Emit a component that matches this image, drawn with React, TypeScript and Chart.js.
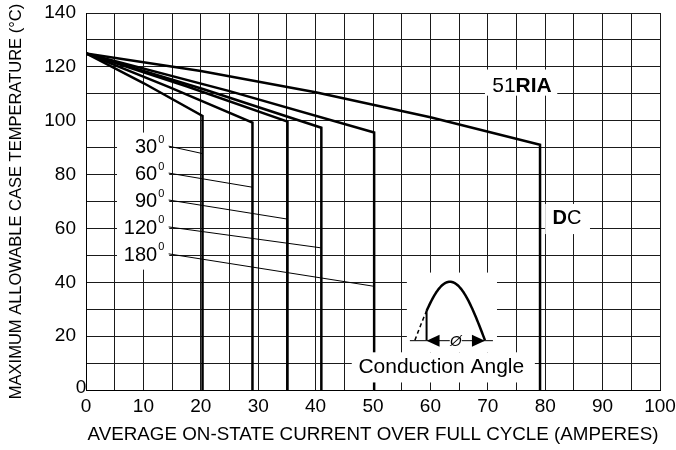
import React, { useEffect, useRef } from "react";
import { Chart, registerables } from "chart.js";
Chart.register(...registerables);

const FONT = "'Liberation Sans', Arial, Helvetica, sans-serif";

// Curves: maximum allowable case temperature vs average current
const a30X = [0, 10, 20.3, 20.3];
const a30Y = [125, 114.0, 101.8, 0];
const a60X = [0, 14.5, 29.0, 29.0];
const a60Y = [125, 112.5, 99.3, 0];
const a90X = [0, 17.5, 35.1, 35.1];
const a90Y = [125, 112.8, 99.7, 0];
const a120X = [0, 20.5, 41.0, 41.0];
const a120Y = [125, 111.7, 97.4, 0];
const a180X = [0, 25, 50.2, 50.2];
const a180Y = [125, 111.0, 95.6, 0];
const dcX = [0, 20, 40, 60, 79.1, 79.1];
const dcY = [125, 118.5, 110.6, 101.3, 91.1, 0];

const seriesNames = ["30°", "60°", "90°", "120°", "180°", "DC"];
const seriesX = [a30X, a60X, a90X, a120X, a180X, dcX];
const seriesY = [a30Y, a60Y, a90Y, a120Y, a180Y, dcY];

// Angle labels
const angleLabels = ["30", "60", "90", "120", "180"];
const angleLabelY = [90, 80, 70, 60, 50];
const leaderEndX = [20.3, 29.0, 35.0, 40.9, 50.2];
const leaderEndY = [87.8, 75.3, 63.5, 52.8, 38.5];

const xTitle = "AVERAGE ON-STATE CURRENT OVER FULL CYCLE (AMPERES)";
const yTitle = "MAXIMUM ALLOWABLE CASE TEMPERATURE (°C)";

// white boxes behind annotations: [x0, x1, y0, y1] in data units
const whiteBoxes = [
  [5.4, 14.5, 44.7, 95.6],
  [69.5, 82.1, 109.3, 119.0],
  [80.0, 87.8, 57.9, 69.1],
  [55.9, 71.6, 14.0, 43.6],
  [46.3, 78.2, 2.8, 14.0],
];

function drawRuns(ctx: CanvasRenderingContext2D, runs: { t: string; b: boolean }[], size: number, cx: number, cy: number) {
  let total = 0;
  const widths = runs.map((r) => {
    ctx.font = `${r.b ? "bold " : ""}${size}px ${FONT}`;
    const w = ctx.measureText(r.t).width;
    total += w;
    return w;
  });
  let x = cx - total / 2;
  ctx.textAlign = "left";
  ctx.textBaseline = "middle";
  runs.forEach((r, i) => {
    ctx.font = `${r.b ? "bold " : ""}${size}px ${FONT}`;
    ctx.fillText(r.t, x, cy);
    x += widths[i];
  });
}

const annotate = {
  id: "annotate",
  afterDatasetsDraw(chart: any) {
    const ctx: CanvasRenderingContext2D = chart.ctx;
    const X = (v: number) => chart.scales.x.getPixelForValue(v);
    const Y = (v: number) => chart.scales.y.getPixelForValue(v);
    ctx.save();
    ctx.fillStyle = "#fff";
    for (const b of whiteBoxes) {
      const x0 = X(b[0]), x1 = X(b[1]), y0 = Y(b[3]), y1 = Y(b[2]);
      ctx.fillRect(x0, y0, x1 - x0, y1 - y0);
    }
    ctx.fillStyle = "#000";
    ctx.strokeStyle = "#000";
    angleLabels.forEach((t, i) => {
      const ty = Y(angleLabelY[i]);
      const tx = X(12.4);
      ctx.textBaseline = "middle";
      ctx.font = `20px ${FONT}`;
      ctx.textAlign = "right";
      ctx.fillText(t, tx, ty);
      ctx.font = `11px ${FONT}`;
      ctx.textAlign = "left";
      ctx.fillText("0", tx + 1, ty - 8);
      ctx.beginPath();
      ctx.lineWidth = 1;
      ctx.moveTo(X(14.4), ty - 1.5);
      ctx.lineTo(X(leaderEndX[i]), Y(leaderEndY[i]));
      ctx.stroke();
    });
    drawRuns(ctx, [{ t: "51", b: false }, { t: "RIA", b: true }], 21, X(75.96), Y(112.7));
    drawRuns(ctx, [{ t: "D", b: true }, { t: "C", b: false }], 20, X(83.8), Y(63.7));
    drawRuns(ctx, [{ t: "Conduction Angle", b: false }], 21, X(61.9), Y(8.6));

    const bx = X(57.3), by = Y(18.5);
    const W = X(69.5) - bx, H = by - Y(40.2);
    const sx = (t: number) => bx + W * t;
    const sy = (t: number) => by - H * Math.sin(Math.PI * t);
    const t0 = 1 / 6;
    ctx.beginPath();
    ctx.setLineDash([4, 3]);
    ctx.lineWidth = 1.5;
    for (let k = 0; k <= 10; k++) {
      const t = (t0 * k) / 10;
      if (k === 0) ctx.moveTo(sx(t), sy(t));
      else ctx.lineTo(sx(t), sy(t));
    }
    ctx.stroke();
    ctx.setLineDash([]);
    ctx.beginPath();
    ctx.lineWidth = 2.5;
    for (let k = 0; k <= 60; k++) {
      const t = t0 + ((1 - t0) * k) / 60;
      if (k === 0) ctx.moveTo(sx(t), sy(t));
      else ctx.lineTo(sx(t), sy(t));
    }
    ctx.stroke();
    ctx.beginPath();
    ctx.lineWidth = 2;
    ctx.moveTo(sx(t0), sy(t0));
    ctx.lineTo(sx(t0), by);
    ctx.stroke();
    ctx.beginPath();
    ctx.lineWidth = 1;
    ctx.moveTo(bx - 5, by + 0.5);
    ctx.lineTo(bx + W + 8, by + 0.5);
    ctx.stroke();
    const ax0 = sx(t0), ax1 = sx(1);
    ctx.beginPath();
    ctx.moveTo(ax0, by + 0.5);
    ctx.lineTo(ax0 + 13, by - 5.5);
    ctx.lineTo(ax0 + 13, by + 6.5);
    ctx.closePath();
    ctx.fill();
    ctx.beginPath();
    ctx.moveTo(ax1, by + 0.5);
    ctx.lineTo(ax1 - 13, by - 5.5);
    ctx.lineTo(ax1 - 13, by + 6.5);
    ctx.closePath();
    ctx.fill();
    const mx = (ax0 + ax1) / 2;
    ctx.fillStyle = "#fff";
    ctx.fillRect(mx - 6, by - 6, 12, 13);
    ctx.fillStyle = "#000";
    ctx.font = `italic 15px ${FONT}`;
    ctx.textAlign = "center";
    ctx.textBaseline = "middle";
    ctx.fillText("Ø", mx, by + 1.5);

    ctx.font = `19px ${FONT}`;
    ctx.textAlign = "center";
    ctx.textBaseline = "middle";
    ctx.fillText("0", chart.chartArea.left - 5, chart.chartArea.bottom - 2);
    ctx.restore();
  },
};

export default function App() {
  const ref = useRef<HTMLCanvasElement>(null);
  useEffect(() => {
    if (!ref.current) return;
    const datasets = seriesNames.map((name, i) => ({
      label: name,
      data: seriesX[i].map((x, j) => ({ x, y: seriesY[i][j] })),
      borderColor: "#000",
      backgroundColor: "#000",
      borderWidth: 2.5,
      pointRadius: 0,
      fill: false,
      tension: 0,
      borderJoinStyle: "miter" as const,
    }));
    const chart = new Chart(ref.current, {
      type: "line",
      data: { datasets },
      options: {
        animation: false,
        responsive: false,
        devicePixelRatio: 1,
        layout: { padding: { top: 13, right: 16, left: 0, bottom: 0 } },
        plugins: { legend: { display: false }, tooltip: { enabled: false } },
        scales: {
          x: {
            type: "linear",
            min: 0,
            max: 100,
            ticks: {
              stepSize: 5,
              autoSkip: false,
              maxRotation: 0,
              color: "#000",
              padding: 5,
              font: { family: FONT, size: 19 },
              callback: (v: any) => (Number(v) % 10 === 0 ? String(v) : ""),
            },
            grid: { color: "#1a1a1a", lineWidth: 1, drawTicks: false },
            border: { display: true, color: "#000", width: 1 },
            title: {
              display: true,
              text: xTitle,
              color: "#000",
              font: { family: FONT, size: 18.8 },
              padding: { top: 0, bottom: 4 },
            },
            afterFit: (s: any) => {
              s.height = 60;
              s.paddingLeft = 0;
              s.paddingRight = 0;
            },
          },
          y: {
            type: "linear",
            min: 0,
            max: 140,
            ticks: {
              stepSize: 10,
              autoSkip: false,
              color: "#000",
              padding: 10,
              font: { family: FONT, size: 19 },
              callback: (v: any) => (Number(v) % 20 === 0 && Number(v) !== 0 ? String(v) : ""),
            },
            grid: { color: "#1a1a1a", lineWidth: 1, drawTicks: false },
            border: { display: true, color: "#000", width: 1 },
            title: {
              display: true,
              text: yTitle,
              color: "#000",
              font: { family: FONT, size: 16.5 },
              padding: { top: 7, bottom: 0 },
            },
            afterFit: (s: any) => {
              s.width = 86;
              s.paddingTop = 0;
              s.paddingBottom = 0;
            },
          },
        },
      },
      plugins: [annotate],
    });
    return () => chart.destroy();
  }, []);
  return (
    <div style={{ position: "absolute", left: 0, top: 0, width: 676, height: 450, background: "#fff" }}>
      <canvas ref={ref} width={676} height={450} style={{ width: 676, height: 450 }} />
    </div>
  );
}
